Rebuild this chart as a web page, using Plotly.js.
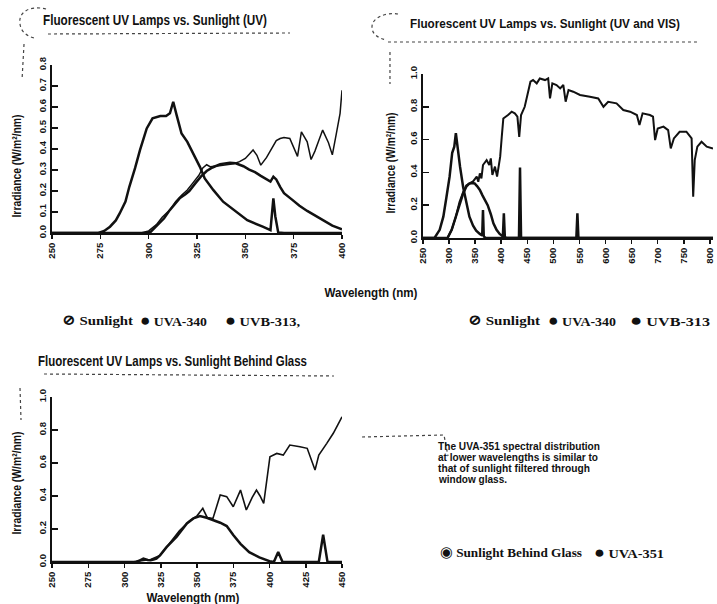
<!DOCTYPE html>
<html>
<head>
<meta charset="utf-8">
<script src="https://cdn.plot.ly/plotly-3.0.1.min.js"></script>
<style>
  html, body { margin: 0; padding: 0; background: #fff; }
  #chart { width: 717px; height: 604px; }
</style>
</head>
<body>
<div id="chart"></div>
<script>
// ---------- Panel 1: UV range (250–400 nm) ----------
const uvTicks = [250, 275, 300, 325, 350, 375, 400];
const uvYTicks = [0, 0.1, 0.2, 0.3, 0.4, 0.5, 0.6, 0.7, 0.8];

const sunUvNm = [296, 300, 304, 307, 311, 314, 317, 320, 323, 326,
                 328, 330, 332, 335, 338, 341, 344, 347, 350, 352,
                 354, 356, 358, 361, 364, 366, 368, 370, 373, 375,
                 377, 379, 382, 384, 386, 388, 390, 393, 395, 397,
                 399, 400];
const sunUv = [0, 0.01, 0.04, 0.075, 0.11, 0.15, 0.18, 0.205, 0.24, 0.275,
               0.31, 0.325, 0.315, 0.318, 0.322, 0.326, 0.33, 0.34, 0.355, 0.375,
               0.395, 0.37, 0.323, 0.36, 0.41, 0.44, 0.45, 0.455, 0.45, 0.41,
               0.365, 0.482, 0.434, 0.35, 0.39, 0.44, 0.49, 0.43, 0.372, 0.47,
               0.57, 0.68];

const uva340UvNm = [250, 298, 301, 305, 308, 311, 314, 316, 319, 321,
                    324, 327, 330, 333, 337, 340, 342, 345, 349, 352,
                    355, 358, 361, 363, 364.5, 366, 368, 370, 374, 378,
                    382, 387, 391, 395, 400];
const uva340Uv = [0, 0, 0.005, 0.04, 0.07, 0.11, 0.145, 0.165, 0.185, 0.2,
                  0.235, 0.268, 0.295, 0.312, 0.328, 0.333, 0.335, 0.332, 0.318, 0.302,
                  0.29, 0.272, 0.255, 0.245, 0.268, 0.255, 0.22, 0.19, 0.16, 0.13,
                  0.105, 0.077, 0.055, 0.035, 0.018];

const uvb313UvNm = [250, 274, 277, 280, 283, 285, 288, 290, 293, 295.5,
                    299, 302, 306, 309, 311, 312.7, 314.5, 317, 320, 323,
                    326.5, 329, 333.5, 338.5, 344, 351, 359, 363, 364.5, 365.5,
                    367, 370, 400];
const uvb313Uv = [0, 0, 0.01, 0.03, 0.06, 0.093, 0.15, 0.22, 0.31, 0.395,
                  0.498, 0.546, 0.557, 0.557, 0.57, 0.625, 0.56, 0.474, 0.434, 0.38,
                  0.315, 0.26, 0.204, 0.149, 0.109, 0.061, 0.03, 0.014, 0.165, 0.08,
                  0.003, 0, 0];

// ---------- Panel 2: UV and visible range (250–800 nm) ----------
const visTicks = [250, 300, 350, 400, 450, 500, 550, 600, 650, 700, 750, 800];
const visYTicks = [0, 0.2, 0.4, 0.6, 0.8, 1.0];

const sunVisNm = [297, 305, 313, 320, 327, 333, 340, 346, 353, 356,
                  359, 362, 365, 372, 377, 380, 383, 388, 392, 398,
                  401, 404, 413, 420, 426, 431, 434.5, 438, 445, 452,
                  456, 461, 468, 474, 484, 490, 493.5, 498, 506, 513,
                  519, 523.5, 529, 538, 551, 570, 586, 596, 605, 621,
                  634, 647, 660, 665, 671, 685, 691, 695, 700, 711,
                  720, 725, 731, 742, 755, 765, 768, 771, 776, 784,
                  794, 806];
const sunVis = [0, 0.05, 0.13, 0.22, 0.28, 0.32, 0.335, 0.345, 0.374, 0.343,
                0.394, 0.363, 0.445, 0.475, 0.445, 0.485, 0.384, 0.435, 0.374, 0.496,
                0.617, 0.729, 0.75, 0.77, 0.76, 0.74, 0.617, 0.75, 0.8, 0.902,
                0.953, 0.963, 0.943, 0.973, 0.963, 0.973, 0.851, 0.943, 0.933, 0.912,
                0.933, 0.831, 0.902, 0.892, 0.872, 0.861, 0.851, 0.8, 0.831, 0.821,
                0.78, 0.77, 0.75, 0.689, 0.76, 0.75, 0.74, 0.597, 0.668, 0.679,
                0.658, 0.546, 0.607, 0.648, 0.648, 0.607, 0.252, 0.475, 0.557, 0.587,
                0.557, 0.546];

const uva340VisNm = [250, 297, 305, 313, 320, 327, 333, 338, 343, 349,
                     354, 359, 364, 369, 374, 380, 385, 391, 397, 404,
                     410, 806];
const uva340Vis = [0, 0, 0.05, 0.13, 0.21, 0.272, 0.313, 0.33, 0.335, 0.333,
                   0.315, 0.293, 0.26, 0.23, 0.2, 0.145, 0.09, 0.05, 0.025, 0.008,
                   0, 0];

const uvb313VisNm = [250, 272, 282, 289, 295, 301, 306, 310, 313, 316,
                     321, 327, 333, 339, 346, 352, 359, 363.5, 365, 366.5,
                     370, 403, 405, 407, 434, 436, 438, 544, 546, 548,
                     806];
const uvb313Vis = [0, 0, 0.05, 0.13, 0.25, 0.374, 0.52, 0.557, 0.64, 0.557,
                   0.435, 0.31, 0.21, 0.13, 0.075, 0.045, 0.025, 0.015, 0.17, 0.01,
                   0, 0, 0.15, 0, 0, 0.43, 0, 0, 0.15, 0,
                   0];

// ---------- Panel 3: behind window glass (250–450 nm) ----------
const glassTicks = [250, 275, 300, 325, 350, 375, 400, 425, 450];
const glassYTicks = [0, 0.2, 0.4, 0.6, 0.8, 1.0];

const sunGlassNm = [305, 311, 318, 324.5, 331, 338, 345, 350, 354, 357,
                    361, 366, 370.5, 375, 380, 384, 388, 391, 393.5, 396,
                    400.3, 405, 409.5, 414, 421, 426, 431.4, 434, 439.5, 444,
                    447, 450];
const sunGlass = [0, 0.005, 0.015, 0.04, 0.11, 0.19, 0.25, 0.28, 0.325, 0.27,
                  0.264, 0.406, 0.396, 0.335, 0.436, 0.315, 0.39, 0.436, 0.4, 0.355,
                  0.638, 0.658, 0.648, 0.709, 0.699, 0.689, 0.557, 0.648, 0.719, 0.78,
                  0.83, 0.88];

const uva351Nm = [250, 308, 311, 313, 316, 318, 320, 322, 324.5, 329,
                  336, 343, 347.5, 352, 356.7, 361, 366, 370.5, 375, 380,
                  386, 393, 400, 403, 406, 409, 434, 437, 440, 450];
const uva351 = [0, 0, 0.012, 0.02, 0.012, 0.01, 0.015, 0.02, 0.04, 0.09,
                0.153, 0.234, 0.264, 0.278, 0.268, 0.254, 0.238, 0.218, 0.163, 0.11,
                0.06, 0.028, 0.005, 0, 0.06, 0, 0, 0.165, 0, 0];

// ---------- Text ----------
const titleUv = 'Fluorescent UV Lamps vs. Sunlight (UV)';
const titleVis = 'Fluorescent UV Lamps vs. Sunlight (UV and VIS)';
const titleGlass = 'Fluorescent UV Lamps vs. Sunlight Behind Glass';
const yTitle = 'Irradiance (W/m²/nm)';
const xTitle = 'Wavelength (nm)';
const noteLines = ['The UVA-351 spectral distribution',
                   'at lower wavelengths is similar to',
                   'that of sunlight filtered through',
                   'window glass.'];

// ---------- Styling ----------
const W = 717, H = 604;
const fx = p => p / W;          // pixel column -> paper x
const fy = p => 1 - p / H;      // pixel row -> paper y
const INK = '#111';
const sans = '"Liberation Sans", Arial, sans-serif';
const serif = '"Liberation Serif", "DejaVu Serif", serif';
const tickFont = { family: sans, size: 9.5, color: INK, weight: 'bold' };

function xAxis(domain, range, ticks, anchor) {
  return {
    domain, range, anchor,
    tickmode: 'array', tickvals: ticks, ticktext: ticks.map(String),
    tickangle: -90, ticks: 'outside', ticklen: 4, tickwidth: 1.5, tickcolor: INK,
    showline: true, linecolor: INK, linewidth: 2,
    showgrid: false, zeroline: false, tickfont: tickFont, fixedrange: true
  };
}
function yAxis(domain, range, ticks, anchor) {
  return {
    domain, range, anchor,
    tickmode: 'array', tickvals: ticks, ticktext: ticks.map(v => v.toFixed(1)),
    tickangle: -90, ticks: 'inside', ticklen: 6, tickwidth: 1.5, tickcolor: INK,
    showline: true, linecolor: INK, linewidth: 2,
    showgrid: false, zeroline: false, tickfont: tickFont, fixedrange: true
  };
}
function curve(x, y, xa, ya, width) {
  return { type: 'scatter', mode: 'lines', x, y, xaxis: xa, yaxis: ya,
           line: { color: INK, width, shape: 'linear' }, hoverinfo: 'skip' };
}

const data = [
  curve(uva340UvNm, uva340Uv, 'x', 'y', 2.5),
  curve(uvb313UvNm, uvb313Uv, 'x', 'y', 2.5),
  curve(sunUvNm, sunUv, 'x', 'y', 1.5),

  curve(uva340VisNm, uva340Vis, 'x2', 'y2', 2.5),
  curve(uvb313VisNm, uvb313Vis, 'x2', 'y2', 2.5),
  curve(sunVisNm, sunVis, 'x2', 'y2', 2.0),

  curve(uva351Nm, uva351, 'x3', 'y3', 2.5),
  curve(sunGlassNm, sunGlass, 'x3', 'y3', 1.6)
];

// Each label carries the printed width it is squeezed to (narrow type)
// and, for left-set text, the column where its first letter starts.
const labels = [];
function label(text, x, y, width, opts) {
  const ann = Object.assign({
    xref: 'paper', yref: 'paper', x: fx(x), y: fy(y), text,
    showarrow: false, xanchor: 'left', yanchor: 'middle', align: 'left',
    font: { family: sans, size: 13, color: INK, weight: 'bold' } }, opts || {});
  labels.push({ width, left: ann.xanchor === 'center' ? null : (opts && opts.startAt) || x, ann });
  delete ann.startAt;
}
const titleFont = { family: sans, size: 15, color: INK, weight: 'bold' };
const axisTitleFont = { family: sans, size: 13, color: INK, weight: 'bold' };
const xTitleFont = { family: sans, size: 13.5, color: INK, weight: 'bold' };
const legendFont = { family: serif, size: 13.5, color: INK, weight: 'bold' };
const noteFont = { family: sans, size: 10, color: INK, weight: 'bold' };
const dot = '<span style="font-size:17px">●</span>';
const ring = '<span style="font-size:15px">⊘</span>';
const eyes = '<span style="font-size:15px">◉</span>';

label(titleUv, 43, 20, 224, { font: titleFont });
label(titleVis, 410, 24, 270, { font: { family: sans, size: 13, color: INK, weight: 'bold' } });
label(titleGlass, 38, 360, 269, { font: titleFont });

label(yTitle, 17, 166, 103, { xanchor: 'center', align: 'center', textangle: -90, font: axisTitleFont });
label(yTitle, 390, 163, 101, { xanchor: 'center', align: 'center', textangle: -90, font: axisTitleFont });
label(yTitle, 16, 483, 103, { xanchor: 'center', align: 'center', textangle: -90, font: axisTitleFont });

label(xTitle, 371, 292, 93, { xanchor: 'center', align: 'center', font: xTitleFont });
label(xTitle, 193, 597, 93, { xanchor: 'center', align: 'center', font: xTitleFont });

label(ring + ' Sunlight', 62, 320, 71, { font: legendFont });
label(dot + ' UVA-340', 140, 320, 67, { font: legendFont });
label(dot + ' UVB-313,', 225, 320, 75, { font: legendFont });

label(ring + ' Sunlight', 468, 320, 72, { font: legendFont });
label(dot + ' UVA-340', 548, 320, 68, { font: legendFont });
label(dot + ' UVB-313', 700, 320, 80, { font: legendFont, xanchor: 'right', startAt: 630 });

label(eyes + ' Sunlight Behind Glass', 440, 552, 142, { font: legendFont });
label(dot + ' UVA-351', 594, 552, 70, { font: legendFont });

const noteWidths = [162, 160, 152, 68];
noteLines.forEach((line, i) => label(line, 438, 446 + i * 11, noteWidths[i], { font: noteFont }));

// Dotted rules and corner marks around the panel headings
function dots(path) {
  const d = path.replace(/(-?\d+(\.\d+)?) (-?\d+(\.\d+)?)/g,
    (m, a, b, c) => fx(+a).toFixed(4) + ' ' + fy(+c).toFixed(4));
  return { type: 'path', xref: 'paper', yref: 'paper', path: d,
           line: { color: '#444', width: 1.2, dash: 'dot' } };
}
const shapes = [
  dots('M 46 9 C 30 5 18 12 20 24 C 21 32 27 36 34 38'),
  dots('M 48 34 L 290 33'),
  dots('M 24 44 L 22 80'),
  dots('M 398 14 C 385 12 372 18 372 27 C 372 34 378 38 386 40'),
  dots('M 388 42 L 700 42'),
  dots('M 390 52 L 390 84'),
  dots('M 44 374 L 334 376'),
  dots('M 20 388 L 21 420'),
  dots('M 362 437 L 444 435 L 448 456')
];

const layout = {
  width: W, height: H,
  margin: { l: 0, r: 0, t: 0, b: 0, pad: 0 },
  paper_bgcolor: '#fff', plot_bgcolor: '#fff',
  showlegend: false,
  xaxis: xAxis([fx(52), fx(342)], [250, 400], uvTicks, 'y'),
  yaxis: yAxis([fy(233), fy(65)], [0, 0.8], uvYTicks, 'x'),
  xaxis2: xAxis([fx(423), fx(713)], [250, 806], visTicks, 'y2'),
  yaxis2: yAxis([fy(238), fy(74)], [0, 1.0], visYTicks, 'x2'),
  xaxis3: xAxis([fx(52), fx(342)], [250, 450], glassTicks, 'y3'),
  yaxis3: yAxis([fy(562), fy(397)], [0, 1.0], glassYTicks, 'x3'),
  annotations: labels.map(l => l.ann),
  shapes
};

// Squeeze each label to its printed width, keeping its anchor point in place.
function condense(gd) {
  gd.querySelectorAll('g.annotation').forEach(g => {
    const i = +g.getAttribute('data-index');
    const item = labels[i];
    if (!item) return;
    const t = g.querySelector('text.annotation-text');
    if (!t) return;
    t.setAttribute('textLength', item.width);
    t.setAttribute('lengthAdjust', 'spacingAndGlyphs');
    const a = item.ann;
    const r = t.getBoundingClientRect();
    let shift;
    if (a.textangle) {
      const target = (1 - a.y) * H;
      shift = -(target - (r.top + r.bottom) / 2);
    } else if (item.left === null) {
      shift = a.x * W - (r.left + r.right) / 2;
    } else {
      shift = item.left - r.left;
    }
    const prev = t.getAttribute('transform') || '';
    t.setAttribute('transform', 'translate(' + shift.toFixed(2) + ',0) ' + prev);
  });
}

const gd = document.getElementById('chart');
Plotly.newPlot(gd, data, layout, { staticPlot: true, displayModeBar: false })
  .then(() => condense(gd));
</script>
</body>
</html>
